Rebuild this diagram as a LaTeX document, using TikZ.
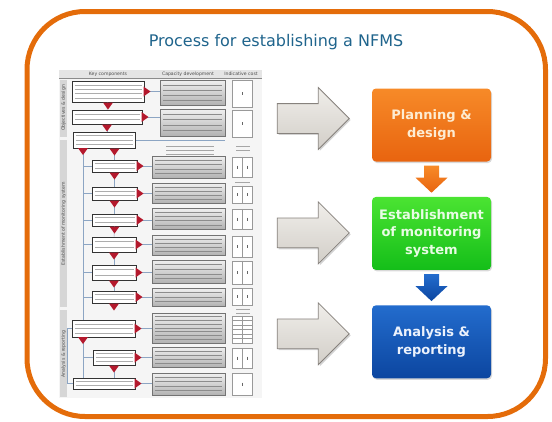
\documentclass[tikz,border=0pt]{standalone}
\usepackage{fontspec}
\setmainfont{DejaVu Sans}
\usepackage{tikz}
\usetikzlibrary{positioning,calc,shapes.arrows,shadows}
\usepackage{xcolor}
\definecolor{frameorange}{RGB}{228,108, 10}
\definecolor{titleblue}  {RGB}{ 31,100,140}
\definecolor{planlight}  {RGB}{247,138, 40}
\definecolor{planorange} {RGB}{232,100, 15}
\definecolor{plantext}   {RGB}{253,236,210}
\definecolor{estlight}   {RGB}{ 75,228, 50}
\definecolor{estgreen}   {RGB}{ 20,190, 25}
\definecolor{esttext}    {RGB}{232,252,228}
\definecolor{replight}   {RGB}{ 35,108,205}
\definecolor{repblue}    {RGB}{ 12, 70,160}
\definecolor{reptext}    {RGB}{236,242,252}
\definecolor{arrowlight} {RGB}{240,238,234}
\definecolor{arrowgray}  {RGB}{210,206,200}
\definecolor{arrowedge}  {RGB}{135,130,125}
\definecolor{qred}       {RGB}{180, 25, 45}
\definecolor{linkblue}   {RGB}{140,165,195}

\newcommand\thumbfont{\fontsize{4.6}{5.5}\selectfont}

% blurred lines standing for the small print inside a box
\newcommand\scribble[3][black!32]{%
  \foreach \i [evaluate=\i as \fr using \i/(#3+1)] in {1,...,#3}
    \draw[#1, line width=.7pt]
      ($(#2.north west)!\fr!(#2.south west)+(3,0)$) --
      ($(#2.north east)!\fr!(#2.south east)+(-3,0)$);}

% block arrow from one stage down to the next
\newcommand\stepdown[4]{%
  \path[top color=#3, bottom color=#4]
    ($(#1.south)+(-7.5,4)$) -- ($(#1.south)+(7.5,4)$)
    -- ($(#2.north)+(7.5,-19)$) -- ($(#2.north)+(16,-19)$)
    -- ($(#2.north)+(0,-4)$) -- ($(#2.north)+(-16,-19)$)
    -- ($(#2.north)+(-7.5,-19)$) -- cycle;}

\begin{document}
\begin{tikzpicture}[x=1pt, y=-1pt,
    stage/.style={rounded corners=4pt, minimum width=119pt, minimum height=73pt,
      align=center, inner sep=2pt,
      font=\fontsize{13}{17.5}\selectfont\bfseries,
      drop shadow={opacity=.3, shadow xshift=1pt, shadow yshift=-1.5pt}},
    bigarrow/.style={single arrow, single arrow head extend=16pt,
      single arrow tip angle=90, minimum height=72pt,
      inner xsep=0pt, inner ysep=14.5pt, draw=arrowedge, line width=.8pt,
      top color=arrowlight, bottom color=arrowgray,
      drop shadow={opacity=.35, shadow xshift=1.5pt, shadow yshift=-1.5pt}},
    kbox/.style={draw=black!80, line width=1pt, fill=white, inner sep=0pt},
    cbox/.style={draw=black!55, line width=.5pt, top color=black!6,
      bottom color=black!30, inner sep=0pt},
    pbox/.style={draw=black!40, line width=.4pt, fill=white, inner sep=0pt},
    link/.style={linkblue, line width=.5pt},
    digit/.style={black!60, line width=.9pt}]
  \useasboundingbox (0,0) rectangle (552,421);

  % outer frame and heading
  \draw[frameorange, line width=5pt, rounded corners=58pt]
    (27,11.5) rectangle (545.5,416.5);
  \node[font=\fontsize{16}{19}\selectfont, text=titleblue] (title) at (276,42)
    {Process for establishing a NFMS};

  % ---- small flow chart on the left ----
  \fill[black!4] (59,70) rectangle (262,398);
  \fill[black!10] (59,70) rectangle (262,78);
  \draw[black!45, line width=.4pt] (59,78) -- (262,78);
  \node[font=\thumbfont, text=black!70] (hkey)  at (108,74) {Key components};
  \node[font=\thumbfont, text=black!70] (hcap)  at (188,74) {Capacity development};
  \node[font=\thumbfont, text=black!70] (hcost) at (241,74) {Indicative cost};

  \fill[black!16] (60,80) rectangle (67,137);
  \fill[black!16] (60,140) rectangle (67,307);
  \fill[black!16] (60,310) rectangle (67,397);
  \node[rotate=90, font=\thumbfont, text=black!70] (sobj) at (63.5,108)
    {Objectives \& design};
  \node[rotate=90, font=\thumbfont, text=black!70] (sest) at (63.5,224)
    {Establishment of monitoring system};
  \node[rotate=90, font=\thumbfont, text=black!70] (srep) at (63.5,354)
    {Analysis \& reporting};

  % key components
  \foreach \n/\xa/\ya/\xb/\yb in {k1/72/81/144/102, k2/72/110/142/124,
      k3/73/132/135/148, k4/92/160/137/172, k5/92/187/137/200,
      k6/92/214/137/226, k7/92/237/136/252, k8/92/265/136/280,
      k9/92/291/136/303, k10/72/320/135/337, k11/93/350/135/365,
      k12/73/378/135/389}
    \node[kbox, minimum width={\xb-\xa}, minimum height={\yb-\ya}]
      (\n) at ({(\xa+\xb)/2},{(\ya+\yb)/2}) {};

  % capacity development
  \foreach \n/\xa/\ya/\xb/\yb in {c1/160/80/225/105, c2/160/109/225/136,
      c4/152/156/225/178, c5/152/183/225/203, c6/152/208/225/229,
      c7/152/235/225/255, c8/152/260/225/283, c9/152/288/225/306,
      c10/152/313/225/343, c11/152/347/225/367, c12/152/373/225/395}
    \node[cbox, minimum width={\xb-\xa}, minimum height={\yb-\ya}]
      (\n) at ({(\xa+\xb)/2},{(\ya+\yb)/2}) {};

  % indicative cost
  \foreach \n/\ya/\yb in {p1/80/107, p2/110/137, p4/157/177, p5/186/203,
      p6/209/229, p7/236/257, p8/261/284, p9/288/305, p10/316/343,
      p11/348/368, p12/373/395}
    \node[pbox, minimum width=20pt, minimum height={\yb-\ya}]
      (\n) at (242,{(\ya+\yb)/2}) {};

  \foreach \n/\m in {k1/4, k2/2, k3/3, k4/2, k5/2, k6/2, k7/2, k8/2, k9/2,
      k10/3, k11/3, k12/2}
    \scribble{\n}{\m};
  \foreach \n/\m in {c1/4, c2/4, c4/4, c5/4, c6/4, c7/4, c8/4, c9/3, c10/7,
      c11/4, c12/4}
    \scribble[black!45]{\n}{\m};

  % single and split cost cells
  \foreach \n in {p1, p2, p12}
    \draw[digit] ($(\n.center)+(0,-1.5)$) -- ++(0,3);
  \foreach \n in {p4, p5, p6, p7, p8, p9, p11} {
    \draw[black!40, line width=.4pt] (\n.north) -- (\n.south);
    \draw[digit] ($(\n.center)+(-5,-1.5)$) -- ++(0,3);
    \draw[digit] ($(\n.center)+(5,-1.5)$) -- ++(0,3);
  }
  \draw[black!40, line width=.4pt] (p10.north) -- (p10.south);
  \foreach \r in {1,...,5}
    \draw[black!40, line width=.4pt]
      ($(p10.north west)!\r/6!(p10.south west)$) --
      ($(p10.north east)!\r/6!(p10.south east)$);

  % small notes beside the cost column
  \foreach \yy in {146,150,154}
    \draw[black!35, line width=.8pt] (166,\yy) -- (214,\yy);
  \foreach \yy in {146,150}
    \draw[black!35, line width=.8pt] (236,\yy) -- (250,\yy);
  \draw[black!35, line width=.8pt] (235,182) -- (250,182);
  \foreach \yy in {309,313}
    \draw[black!35, line width=.8pt] (236,\yy) -- (250,\yy);

  % links from the components
  \foreach \k/\c in {k1/c1, k2/c2, k4/c4, k5/c5, k6/c6, k7/c7, k8/c8,
      k9/c9, k10/c10, k11/c11, k12/c12}
    \draw[link] (\k.east) -- (\k.east -| \c.west);
  \draw[link] (k3.east) -- (k3.east -| c1.east);

  \coordinate (spine) at (83,148);
  \draw[link] (spine) -- (spine |- k10.north);
  \foreach \k in {k4, k5, k6, k7, k8, k9}
    \draw[link] (spine |- \k.west) -- (\k.west);
  \draw[link] (k1.south) -- (k2.north);
  \draw[link] (k2.south) -- (k2.south |- k3.north);
  \draw[link] (k3.south -| k4.north) -- (k4.north);
  \foreach \a/\b in {k4/k5, k5/k6, k6/k7, k7/k8, k8/k9}
    \draw[link] (\a.south) -- (\b.north);
  \coordinate (lower) at (83,337);
  \draw[link] (lower) -- (lower |- k12.north);
  \draw[link] (lower |- k11.west) -- (k11.west);
  \draw[link] (k11.south) -- (k11.south |- k12.north);
  \draw[link] (k10.west) -- ++(-4,0) |- (k12.west);

  % red question markers
  \foreach \k in {k1, k2, k4, k5, k6, k7, k8, k9, k10, k11, k12}
    \fill[qred] ($(\k.east)+(-1,-5)$) -- ++(7,5) -- ++(-7,5) -- cycle;
  \foreach \k in {k1, k2, k4, k5, k6, k7, k8, k9, k11}
    \fill[qred] ($(\k.south)+(-5,0)$) -- ++(10,0) -- ++(-5,7) -- cycle;
  \fill[qred] ($(spine)+(-5,0)$) -- ++(10,0) -- ++(-5,7) -- cycle;
  \fill[qred] ($(k3.south -| k4.north)+(-5,0)$) -- ++(10,0) -- ++(-5,7) -- cycle;
  \fill[qred] ($(lower)+(-5,0)$) -- ++(10,0) -- ++(-5,7) -- cycle;

  % ---- the three stages ----
  \node[stage, top color=planlight, bottom color=planorange, text=plantext]
    (plan) at (431.5,125) {Planning \&\\design};
  \node[stage, top color=estlight, bottom color=estgreen, text=esttext,
    below=35pt of plan] (est) {Establishment\\of monitoring\\system};
  \node[stage, top color=replight, bottom color=repblue, text=reptext,
    below=35pt of est] (rep) {Analysis \&\\reporting};

  \stepdown{plan}{est}{planlight}{planorange}
  \stepdown{est}{rep}{replight}{repblue}

  \node[bigarrow, anchor=tip] (go1) at ($(plan.west)+(-22,-6.5)$) {};
  \node[bigarrow, anchor=tip] (go2) at ($(est.west)+(-22,-0.5)$) {};
  \node[bigarrow, anchor=tip] (go3) at ($(rep.west)+(-22,-8)$) {};
\end{tikzpicture}
\end{document}
